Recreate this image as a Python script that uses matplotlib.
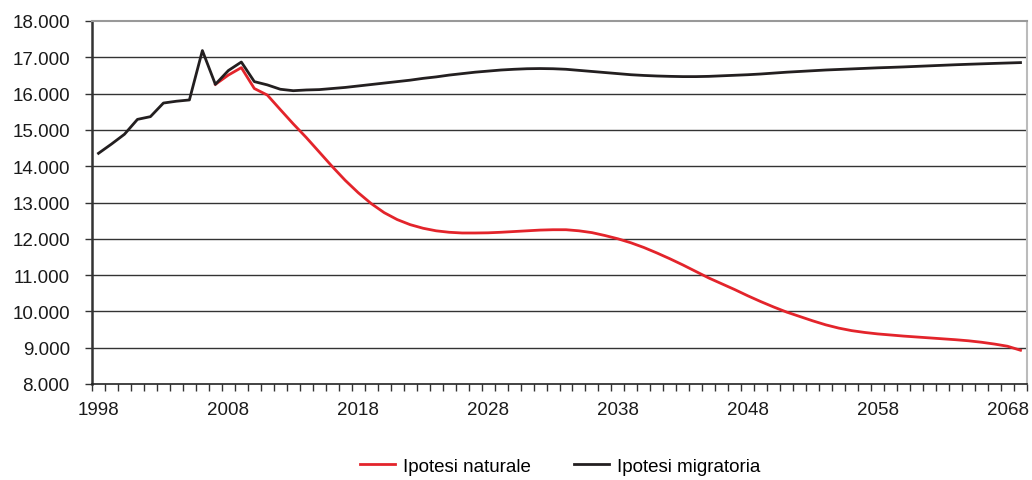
import matplotlib.pyplot as plt
from matplotlib.ticker import FixedLocator, FuncFormatter

plt.rcParams['font.family'] = ['Liberation Sans', 'DejaVu Sans']

years = list(range(1998, 2070))

# popolazione, ipotesi migratoria (1998-2069)
migratoria = [14355, 14610, 14880, 15290, 15365, 15740, 15790, 15825, 17185, 16255,
              16635, 16870, 16330, 16240, 16120, 16080, 16100, 16110, 16140, 16170,
              16210, 16250, 16290, 16330, 16370, 16420, 16460, 16510, 16550, 16590,
              16620, 16650, 16670, 16685, 16690, 16685, 16670, 16640, 16610, 16580,
              16550, 16520, 16500, 16485, 16475, 16468, 16468, 16475, 16490, 16505,
              16520, 16540, 16565, 16590, 16610, 16630, 16650, 16665, 16680, 16695,
              16710, 16722, 16735, 16750, 16765, 16780, 16795, 16808, 16820, 16832,
              16843, 16854]

# ipotesi naturale, parte dal 2007
naturale_years = list(range(2007, 2070))
naturale = [16255, 16510, 16715, 16140, 15960, 15560, 15165, 14790, 14390, 13990,
            13610, 13270, 12970, 12720, 12530, 12390, 12290, 12220, 12180, 12160,
            12160, 12165, 12180, 12200, 12220, 12240, 12250, 12250, 12220, 12170,
            12090, 12000, 11890, 11760, 11610, 11450, 11280, 11100, 10920, 10760,
            10600, 10430, 10270, 10120, 9980, 9860, 9740, 9630, 9540, 9470,
            9420, 9380, 9350, 9320, 9295, 9270, 9245, 9220, 9190, 9150,
            9100, 9040, 8930]

label_years = list(range(1998, 2070, 10))

fig = plt.figure(figsize=(10.32, 4.81), dpi=100)
ax = fig.add_axes([92 / 1032, 1 - 385 / 481, 935 / 1032, 363 / 481])

x_mig = [years.index(y) for y in years]
x_nat = [years.index(y) for y in naturale_years]

for v in range(9000, 18000, 1000):
    ax.axhline(v, color='#333333', lw=1.0, zorder=1)

l1, = ax.plot(x_nat, naturale, color='#E3242B', lw=2.0, zorder=3, label='Ipotesi naturale')
l2, = ax.plot(x_mig, migratoria, color='#231F20', lw=2.0, zorder=4, label='Ipotesi migratoria')

ax.set_xlim(-0.5, len(years) - 0.5)
ax.set_ylim(8000, 18000)

ax.yaxis.set_major_locator(FixedLocator(range(8000, 19000, 1000)))
ax.yaxis.set_major_formatter(FuncFormatter(lambda v, p: '{:,.0f}'.format(v).replace(',', '.')))
ax.tick_params(axis='y', direction='out', length=5, width=1, color='#333333',
               labelsize=13.5, pad=11, labelcolor='#1a1a1a')

ax.set_xticks([years.index(y) for y in label_years])
ax.set_xticklabels([str(y) for y in label_years])
ax.set_xticks([i - 0.5 for i in range(len(years) + 1)], minor=True)
ax.tick_params(axis='x', which='major', length=0, labelsize=13.5, pad=12, labelcolor='#1a1a1a')
ax.tick_params(axis='x', which='minor', direction='out', length=5, width=1, color='#333333')

ax.spines['left'].set_color('#333333')
ax.spines['left'].set_linewidth(1.8)
ax.spines['bottom'].set_color('#222222')
ax.spines['bottom'].set_linewidth(1.2)
ax.spines['top'].set_color('#999999')
ax.spines['top'].set_linewidth(1.5)
ax.spines['right'].set_color('#bbbbbb')
ax.spines['right'].set_linewidth(1.5)

fig.legend(handles=[l1, l2], loc='center', bbox_to_anchor=(560 / 1032, 1 - 467 / 481),
           ncol=2, frameon=False, fontsize=13.5, handlelength=1.9, handletextpad=0.4,
           columnspacing=2.3)

fig.savefig('out.png', dpi=100)
